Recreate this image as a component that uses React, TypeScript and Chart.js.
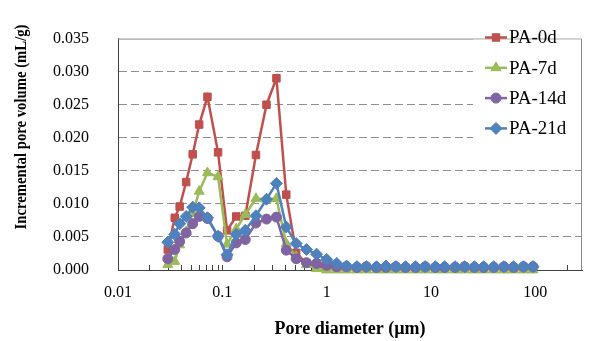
import React, { useEffect, useRef } from 'react';
import { Chart, registerables } from 'chart.js';

Chart.register(...registerables);

// Pore diameters (µm)
const diameters = [
  0.030, 0.035, 0.039, 0.045, 0.052, 0.060, 0.072, 0.091, 0.111, 0.136,
  0.166, 0.21, 0.265, 0.33, 0.41, 0.51, 0.64, 0.80, 1.0, 1.25,
  1.55, 1.95, 2.4, 3.0, 3.7, 4.6, 5.7, 7.1, 8.8, 11,
  13.5, 17, 21, 26, 32, 40, 50, 62, 77, 95,
];

const pa0d = [
  0.0031, 0.0079, 0.0096, 0.0133, 0.0175, 0.0220, 0.0262, 0.0178, 0.0060, 0.0081,
  0.0082, 0.0174, 0.0250, 0.0290, 0.0114, 0.0026, 0.0010, 0.0006, 0.0004, 0.0003,
  0.0003, 0.0003, 0.0002, 0.0003, 0.0003, 0.0002, 0.0003, 0.0003, 0.0002, 0.0003,
  0.0003, 0.0002, 0.0003, 0.0003, 0.0003, 0.0002, 0.0003, 0.0002, 0.0003, 0.0003,
];

const pa7d = [
  0.0008, 0.0013, 0.0038, 0.0058, 0.0086, 0.0119, 0.0147, 0.0141, 0.0039, 0.0062,
  0.0084, 0.0108, 0.0107, 0.0108, 0.0040, 0.0020, 0.0008, 0.0002, 0.0000, 0.0000,
  0.0000, 0.0000, 0.0000, 0.0000, 0.0000, 0.0000, 0.0000, 0.0000, 0.0000, 0.0000,
  0.0000, 0.0000, 0.0000, 0.0000, 0.0000, 0.0000, 0.0000, 0.0000, 0.0000, 0.0000,
];

const pa14d = [
  0.0017, 0.0031, 0.0043, 0.0056, 0.0070, 0.0081, 0.0078, 0.0051, 0.0020, 0.0041,
  0.0046, 0.0071, 0.0077, 0.0080, 0.0030, 0.0017, 0.0011, 0.0010, 0.0007, 0.0005,
  0.0005, 0.0004, 0.0005, 0.0004, 0.0004, 0.0005, 0.0004, 0.0004, 0.0005, 0.0004,
  0.0004, 0.0004, 0.0005, 0.0004, 0.0004, 0.0004, 0.0005, 0.0004, 0.0005, 0.0005,
];

const pa21d = [
  0.0042, 0.0054, 0.0070, 0.0081, 0.0095, 0.0094, 0.0079, 0.0051, 0.0023, 0.0054,
  0.0060, 0.0082, 0.0107, 0.0131, 0.0065, 0.0040, 0.0031, 0.0024, 0.0016, 0.0010,
  0.0006, 0.0005, 0.0005, 0.0005, 0.0006, 0.0005, 0.0005, 0.0005, 0.0005, 0.0005,
  0.0005, 0.0005, 0.0005, 0.0005, 0.0005, 0.0005, 0.0005, 0.0005, 0.0005, 0.0005,
];

const seriesNames = ['PA-0d', 'PA-7d', 'PA-14d', 'PA-21d'];
const seriesValues = [pa0d, pa7d, pa14d, pa21d];
const seriesColors = ['#C0504D', '#9BBB59', '#8064A2', '#4F81BD'];
const seriesStyles = ['rect', 'triangle', 'circle', 'rectRot'];
const seriesRadii = [5.3, 5.8, 5, 6];

const xTickLabels = ['0.01', '0.1', '1', '10', '100'];
const yTickLabels = ['0.000', '0.005', '0.010', '0.015', '0.020', '0.025', '0.030', '0.035'];
const xTitle = 'Pore diameter (µm)';
const yTitle = 'Incremental pore volume (mL/g)';

const FONT = '"Liberation Serif", "Times New Roman", serif';

function drawMarker(ctx: CanvasRenderingContext2D, style: string, x: number, y: number, r: number, color: string) {
  ctx.save();
  ctx.fillStyle = color;
  ctx.strokeStyle = color;
  ctx.lineWidth = 1;
  ctx.beginPath();
  if (style === 'rect') {
    const s = Math.SQRT1_2 * r;
    ctx.rect(x - s, y - s, 2 * s, 2 * s);
  } else if (style === 'triangle') {
    for (let k = 0; k < 3; k++) {
      const a = (k * 2 * Math.PI) / 3;
      const px = x + Math.sin(a) * r;
      const py = y - Math.cos(a) * r;
      if (k === 0) ctx.moveTo(px, py);
      else ctx.lineTo(px, py);
    }
    ctx.closePath();
  } else if (style === 'circle') {
    ctx.arc(x, y, r, 0, Math.PI * 2);
  } else {
    ctx.moveTo(x, y - r);
    ctx.lineTo(x + r, y);
    ctx.lineTo(x, y + r);
    ctx.lineTo(x - r, y);
    ctx.closePath();
  }
  ctx.fill();
  ctx.stroke();
  ctx.restore();
}

const decorPlugin = {
  id: 'decor',
  beforeDatasetsDraw(chart: any) {
    const { ctx, chartArea } = chart;
    const xs = chart.scales.x;
    ctx.save();
    // top & right frame
    ctx.strokeStyle = '#8c8c8c';
    ctx.lineWidth = 1;
    ctx.beginPath();
    ctx.moveTo(chartArea.left, chartArea.top + 0.5);
    ctx.lineTo(chartArea.right - 0.5, chartArea.top + 0.5);
    ctx.lineTo(chartArea.right - 0.5, chartArea.bottom);
    ctx.stroke();
    // inward tick marks on x axis
    ctx.strokeStyle = '#404040';
    ctx.beginPath();
    for (let d = -2; d <= 2; d++) {
      for (let m = 1; m <= 9; m++) {
        const v = m * Math.pow(10, d);
        if (v <= xs.min * 1.0001 || v >= xs.max) continue;
        const px = Math.round(xs.getPixelForValue(v)) + 0.5;
        ctx.moveTo(px, chartArea.bottom);
        ctx.lineTo(px, chartArea.bottom - 5);
      }
    }
    ctx.stroke();
    ctx.restore();
  },
  afterDatasetsDraw(chart: any) {
    const { ctx, chartArea } = chart;
    ctx.save();
    // legend box
    ctx.fillStyle = '#ffffff';
    ctx.fillRect(473, chartArea.top + 1, chartArea.right - 474, 126);
    const y0 = 37.5;
    const dy = 30.3;
    for (let i = 0; i < seriesNames.length; i++) {
      const y = y0 + i * dy;
      ctx.strokeStyle = seriesColors[i];
      ctx.lineWidth = 2.5;
      ctx.beginPath();
      ctx.moveTo(485, y);
      ctx.lineTo(507, y);
      ctx.stroke();
      drawMarker(ctx, seriesStyles[i], 496, y, seriesRadii[i], seriesColors[i]);
      ctx.fillStyle = '#000';
      ctx.font = `19px ${FONT}`;
      ctx.textAlign = 'left';
      ctx.textBaseline = 'middle';
      ctx.fillText(seriesNames[i], 509, y + 1);
    }
    ctx.restore();
  },
  afterDraw(chart: any) {
    const { ctx } = chart;
    ctx.save();
    ctx.translate(22, 127);
    ctx.rotate(-Math.PI / 2);
    ctx.font = `bold 17px ${FONT}`;
    const w = ctx.measureText(yTitle).width;
    ctx.scale(205 / w, 1);
    ctx.fillStyle = '#000';
    ctx.textAlign = 'center';
    ctx.textBaseline = 'middle';
    ctx.fillText(yTitle, 0, 0);
    ctx.restore();
  },
};

export default function App() {
  const ref = useRef<HTMLCanvasElement>(null);

  useEffect(() => {
    const canvas = ref.current;
    if (!canvas) return;
    const datasets = seriesNames.map((name, i) => ({
      label: name,
      data: diameters.map((d, j) => ({ x: d, y: seriesValues[i][j] })),
      borderColor: seriesColors[i],
      backgroundColor: seriesColors[i],
      pointBackgroundColor: seriesColors[i],
      pointBorderColor: seriesColors[i],
      borderWidth: 2.5,
      pointStyle: seriesStyles[i],
      pointRadius: seriesRadii[i],
      pointBorderWidth: 1,
      tension: 0,
      clip: false,
      order: seriesNames.length - i,
    }));

    const chart = new Chart(canvas, {
      type: 'line',
      data: { datasets } as any,
      plugins: [decorPlugin],
      options: {
        animation: false,
        responsive: false,
        devicePixelRatio: 1,
        layout: { padding: { top: 19, right: 6, left: 0, bottom: 0 } },
        plugins: {
          legend: { display: false },
          tooltip: { enabled: false },
        },
        scales: {
          x: {
            type: 'logarithmic',
            min: 0.01,
            max: 280,
            afterFit: (s: any) => { s.height = 71; s.paddingRight = 0; },
            grid: { display: false, drawTicks: false },
            border: { display: true, color: '#404040', width: 1 },
            ticks: {
              autoSkip: false,
              maxRotation: 0,
              minRotation: 0,
              padding: 13,
              color: '#000',
              font: { family: FONT, size: 16 },
              callback: (value: any) => {
                const e = Math.log10(Number(value));
                const r = Math.round(e);
                if (Math.abs(e - r) < 1e-6 && r >= -2 && r <= 2) return xTickLabels[r + 2];
                return '';
              },
            },
            title: {
              display: true,
              text: xTitle,
              color: '#000',
              font: { family: FONT, size: 18, weight: 'bold' },
              padding: { top: 0, bottom: 1 },
            },
          },
          y: {
            type: 'linear',
            min: 0,
            max: 0.035,
            afterFit: (s: any) => { s.width = 118; },
            grid: {
              drawTicks: false,
              lineWidth: 1,
              color: (c: any) => {
                const v = c.tick ? c.tick.value : 0;
                if (v <= 0.0001 || v >= 0.0349) return 'rgba(0,0,0,0)';
                return '#8f8f8f';
              },
            },
            border: { display: true, color: '#404040', width: 1, dash: [8, 4] },
            ticks: {
              stepSize: 0.005,
              padding: 29,
              color: '#000',
              font: { family: FONT, size: 16 },
              callback: (value: any) => yTickLabels[Math.round(Number(value) / 0.005)] ?? '',
            },
          },
        },
      } as any,
    });
    return () => chart.destroy();
  }, []);

  return (
    <div style={{ position: 'fixed', left: 0, top: 0, width: 589, height: 341, background: '#fff' }}>
      <canvas ref={ref} width={589} height={341} style={{ display: 'block', width: 589, height: 341 }} />
    </div>
  );
}
